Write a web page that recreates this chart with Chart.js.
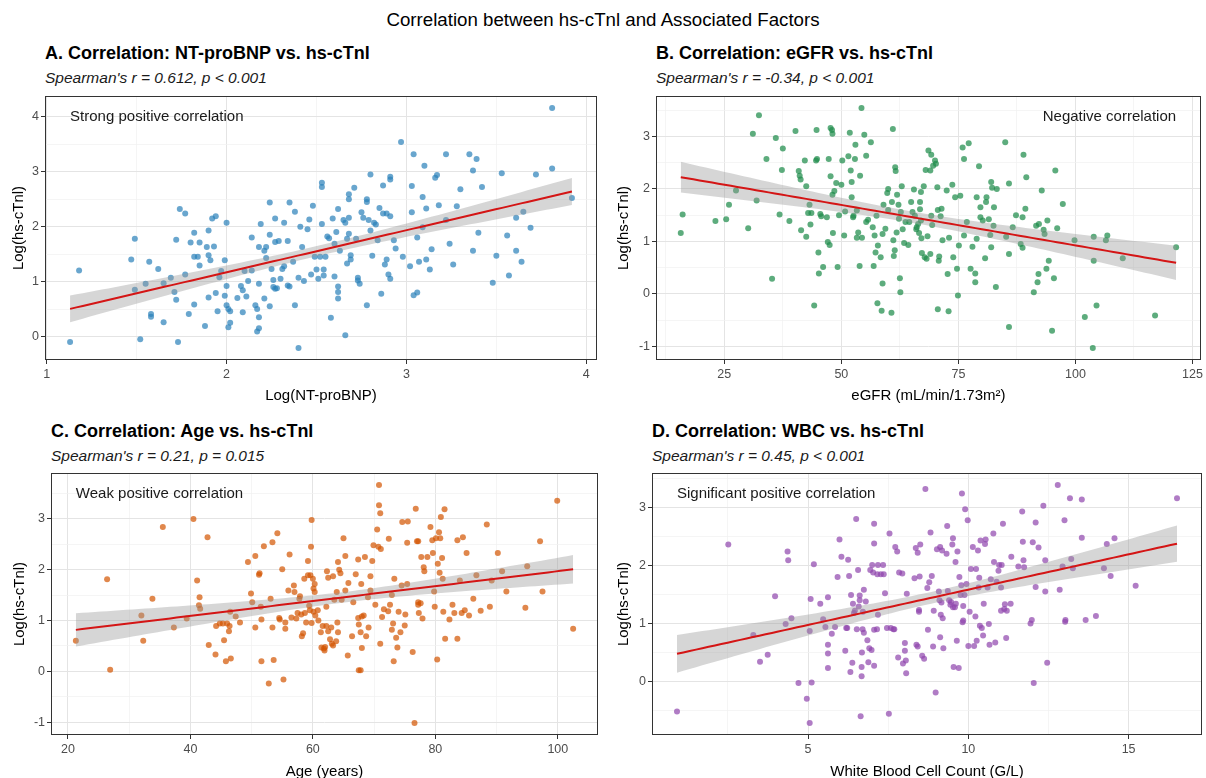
<!DOCTYPE html>
<html lang="en">
<head>
<meta charset="UTF-8" />
<title>Correlation between hs-cTnl and Associated Factors</title>
<script src="https://cdn.jsdelivr.net/npm/chart.js@4.4.1/dist/chart.umd.min.js"></script>
<style>
    html, body { margin: 0; padding: 0; background: #fff; overflow: hidden; }
    body { width: 1206px; height: 778px; position: relative; font-family: "Liberation Sans", Arial, sans-serif; }
    .txt { position: absolute; white-space: nowrap; color: #000; }
    .main { left: 0; width: 1206px; text-align: center; font-size: 18.7px; line-height: 22px; top: 9px; }
    .ttl { font-weight: bold; font-size: 18px; line-height: 22px; }
    .sub { font-style: italic; font-size: 15.5px; line-height: 20px; color: #1a1a1a; }
    .panel { position: absolute; }
</style>
</head>
<body>
<div class="txt main">Correlation between hs-cTnl and Associated Factors</div>

<div class="txt ttl" style="left:45px; top:41.5px">A. Correlation: NT-proBNP vs. hs-cTnl</div>
<div class="txt sub" style="left:45px; top:68px">Spearman's r = 0.612, p &lt; 0.001</div>
<div class="txt ttl" style="left:656px; top:41.5px">B. Correlation: eGFR vs. hs-cTnl</div>
<div class="txt sub" style="left:656px; top:68px">Spearman's r = -0.34, p &lt; 0.001</div>
<div class="txt ttl" style="left:51px; top:420px">C. Correlation: Age vs. hs-cTnl</div>
<div class="txt sub" style="left:51px; top:446px">Spearman's r = 0.21, p = 0.015</div>
<div class="txt ttl" style="left:652px; top:420px">D. Correlation: WBC vs. hs-cTnl</div>
<div class="txt sub" style="left:652px; top:446px">Spearman's r = 0.45, p &lt; 0.001</div>

<div class="panel" style="left:0; top:80px"><canvas id="pA" width="603" height="330"></canvas></div>
<div class="panel" style="left:603px; top:80px"><canvas id="pB" width="603" height="330"></canvas></div>
<div class="panel" style="left:0; top:463px"><canvas id="pC" width="603" height="327"></canvas></div>
<div class="panel" style="left:603px; top:463px"><canvas id="pD" width="603" height="327"></canvas></div>

<script>
// --- data: [x, log(hs-cTnI)] ---
const ptsA = [[1.13,-0.10],[1.18,1.20],[1.47,1.40],[1.49,1.78],[1.49,0.85],[1.52,-0.05],[1.55,0.96],[1.57,1.36],[1.58,0.41],[1.58,0.36],[1.62,1.23],[1.65,0.26],[1.65,0.97],[1.69,1.07],[1.71,0.81],[1.72,1.76],[1.72,0.67],[1.73,-0.10],[1.74,2.32],[1.77,2.24],[1.77,1.13],[1.79,0.41],[1.80,1.71],[1.82,0.58],[1.82,1.89],[1.82,1.45],[1.84,1.45],[1.85,1.29],[1.85,1.71],[1.88,0.19],[1.89,1.63],[1.90,1.93],[1.90,1.48],[1.91,1.39],[1.90,0.71],[1.92,2.15],[1.94,2.19],[1.93,1.64],[1.94,0.79],[1.95,0.46],[1.96,1.08],[1.97,1.19],[1.99,1.39],[1.99,0.74],[2.00,2.07],[2.00,0.92],[2.00,0.57],[2.01,0.50],[2.02,0.46],[2.02,0.25],[2.01,0.17],[2.06,0.70],[2.08,0.92],[2.09,0.44],[2.09,0.84],[2.10,1.19],[2.11,0.73],[2.12,1.01],[2.14,1.80],[2.14,1.20],[2.16,0.57],[2.17,0.50],[2.18,0.96],[2.18,1.63],[2.18,0.35],[2.18,0.15],[2.17,0.09],[2.19,2.05],[2.21,0.69],[2.21,1.56],[2.22,1.63],[2.22,1.43],[2.24,2.44],[2.24,1.85],[2.24,0.55],[2.25,1.23],[2.26,1.03],[2.26,0.90],[2.27,2.15],[2.27,0.87],[2.27,1.72],[2.28,0.88],[2.29,1.74],[2.30,1.05],[2.31,1.23],[2.32,2.07],[2.32,1.28],[2.34,1.74],[2.35,2.44],[2.34,0.93],[2.35,0.91],[2.37,1.36],[2.38,2.27],[2.38,0.57],[2.40,-0.21],[2.40,1.07],[2.41,2.00],[2.42,1.63],[2.43,1.01],[2.45,1.95],[2.46,2.13],[2.47,1.13],[2.48,2.38],[2.49,1.45],[2.50,1.22],[2.51,1.05],[2.52,1.45],[2.53,2.05],[2.53,2.72],[2.53,2.80],[2.54,1.22],[2.54,1.11],[2.55,1.45],[2.56,1.82],[2.57,1.79],[2.58,0.34],[2.59,2.15],[2.60,1.69],[2.60,1.09],[2.61,1.90],[2.62,2.32],[2.62,0.69],[2.62,0.91],[2.62,0.81],[2.63,1.56],[2.65,2.12],[2.66,0.02],[2.66,2.07],[2.67,1.78],[2.67,1.33],[2.68,2.59],[2.68,2.50],[2.68,2.16],[2.68,1.87],[2.69,1.48],[2.69,1.40],[2.71,2.71],[2.72,1.78],[2.73,1.07],[2.73,1.02],[2.74,0.96],[2.75,2.26],[2.76,2.16],[2.78,0.57],[2.78,2.50],[2.78,2.45],[2.79,2.12],[2.80,1.93],[2.80,2.95],[2.81,1.47],[2.82,2.07],[2.83,2.04],[2.84,1.75],[2.85,2.34],[2.86,0.78],[2.87,2.75],[2.87,2.24],[2.88,1.31],[2.89,2.24],[2.89,1.40],[2.90,1.13],[2.91,2.86],[2.91,2.19],[2.91,2.91],[2.91,1.05],[2.93,1.75],[2.94,1.60],[2.97,3.54],[2.98,1.45],[3.02,1.28],[3.03,2.74],[3.03,2.26],[3.04,0.75],[3.04,3.32],[3.06,1.80],[3.06,0.80],[3.07,1.36],[3.09,2.54],[3.09,1.99],[3.10,3.11],[3.11,1.40],[3.11,2.33],[3.13,1.22],[3.14,1.59],[3.16,2.89],[3.17,2.94],[3.18,2.39],[3.22,3.32],[3.22,2.12],[3.24,1.69],[3.26,1.31],[3.28,2.37],[3.30,2.68],[3.35,3.32],[3.37,3.02],[3.37,1.56],[3.39,3.23],[3.40,1.89],[3.42,2.72],[3.48,0.98],[3.50,1.47],[3.53,2.97],[3.56,1.84],[3.57,1.11],[3.61,1.56],[3.61,2.16],[3.64,1.36],[3.65,2.27],[3.69,1.98],[3.72,2.95],[3.81,3.06],[3.81,4.16],[3.92,2.52]];

const ptsB = [[15.7,1.16],[16.1,1.51],[23.1,1.39],[25.4,1.42],[26.0,1.70],[27.5,1.97],[30.1,1.25],[31.1,3.05],[31.9,1.78],[32.4,3.40],[34.0,2.57],[35.2,0.29],[36.0,2.97],[36.8,1.51],[37.3,2.36],[37.5,2.77],[38.9,1.39],[40.2,3.10],[40.9,2.34],[41.1,2.25],[41.3,2.18],[41.4,1.21],[42.2,2.54],[42.5,1.09],[42.5,2.05],[42.9,1.54],[43.6,1.54],[43.2,1.70],[43.4,1.32],[44.2,-0.22],[44.6,2.54],[44.7,3.12],[44.8,2.57],[45.1,0.79],[45.2,0.39],[45.5,1.52],[45.7,1.48],[46.1,0.51],[46.9,1.46],[47.1,0.99],[47.3,2.57],[47.5,0.93],[47.7,3.16],[47.7,2.24],[48.0,3.12],[48.1,3.05],[48.1,1.89],[48.2,1.16],[48.5,1.96],[48.9,2.11],[49.2,0.51],[49.5,1.50],[50.0,2.08],[50.2,2.54],[50.6,1.11],[50.8,1.57],[51.5,2.62],[51.8,3.07],[52.2,2.13],[52.0,2.35],[52.2,1.84],[52.5,1.46],[52.6,1.49],[52.9,2.57],[53.0,2.84],[53.3,1.59],[53.3,1.07],[53.6,1.17],[53.9,0.53],[54.0,2.25],[54.3,3.54],[54.4,1.07],[54.9,3.03],[55.3,1.37],[55.3,2.63],[55.7,1.41],[56.3,2.89],[56.7,1.27],[56.9,0.53],[57.1,1.11],[57.3,0.79],[57.5,1.49],[57.7,-0.18],[57.8,0.92],[58.4,0.70],[58.6,-0.32],[58.8,0.20],[58.8,1.14],[59.0,1.70],[59.4,1.24],[59.8,1.92],[60.0,2.00],[60.0,1.60],[60.7,-0.36],[60.8,1.75],[61.0,3.14],[61.1,1.02],[61.2,0.72],[61.4,0.83],[61.5,2.41],[61.6,2.34],[61.8,1.17],[61.9,1.89],[62.2,1.70],[62.3,1.43],[62.5,0.30],[62.6,0.03],[62.7,1.56],[62.9,2.05],[63.1,1.23],[63.4,0.97],[63.7,1.37],[64.3,0.93],[64.5,1.37],[64.9,1.75],[65.2,1.56],[65.5,1.99],[65.7,1.49],[66.0,1.23],[66.1,1.27],[66.4,1.33],[66.6,1.16],[66.8,1.75],[66.8,1.61],[67.0,1.94],[67.0,1.40],[67.1,1.06],[67.2,0.78],[67.6,2.05],[67.8,0.70],[68.0,2.36],[68.2,0.67],[68.4,1.10],[68.6,2.73],[69.0,2.35],[69.0,0.76],[69.2,2.65],[69.2,1.49],[69.4,1.31],[69.6,2.44],[70.0,2.54],[70.2,2.48],[70.5,2.03],[70.6,1.60],[70.6,-0.29],[70.8,0.63],[70.9,0.71],[71.2,1.48],[71.4,1.62],[71.6,1.02],[72.5,1.97],[72.7,0.38],[72.9,-0.33],[73.0,1.07],[73.7,2.08],[73.9,0.70],[74.3,1.84],[74.7,0.48],[74.9,-0.03],[75.1,0.92],[75.4,1.87],[75.9,2.79],[76.2,2.57],[76.2,1.11],[76.8,1.37],[77.2,2.87],[77.6,0.48],[78.0,0.90],[78.6,0.39],[78.6,0.22],[78.9,1.84],[78.9,1.05],[79.4,2.43],[79.7,1.46],[79.7,1.65],[80.2,1.40],[80.7,0.68],[80.9,1.75],[81.0,1.84],[81.5,1.42],[81.8,1.12],[82.0,2.13],[82.0,0.89],[82.2,2.02],[82.5,1.30],[82.6,1.65],[83.0,0.13],[83.2,2.00],[85.0,2.89],[85.2,1.09],[85.8,2.10],[85.8,0.76],[85.8,-0.63],[86.6,1.27],[87.3,1.50],[88.3,0.95],[88.7,1.46],[88.7,0.88],[88.9,2.65],[89.3,1.62],[89.5,2.22],[91.1,0.03],[91.6,1.30],[91.9,0.22],[92.1,0.38],[92.2,1.33],[92.8,1.97],[93.2,1.22],[93.4,1.14],[93.8,0.48],[94.0,1.40],[94.3,0.63],[95.0,-0.70],[95.4,0.30],[95.7,2.35],[96.1,1.25],[97.3,1.71],[99.8,1.02],[102.0,-0.44],[103.7,-1.03],[103.9,1.09],[103.9,0.63],[104.5,-0.22],[106.5,1.02],[106.8,1.11],[110.1,0.68],[117.0,-0.41],[121.5,0.89]];

const ptsC = [[21.3,0.60],[26.4,1.81],[26.9,0.03],[32.0,1.10],[32.3,0.60],[33.8,1.43],[35.5,2.84],[37.3,0.86],[39.4,1.04],[40.5,3.00],[41.1,1.79],[41.4,1.30],[41.5,1.46],[41.6,1.23],[42.8,2.64],[43.0,0.52],[44.1,0.33],[44.2,0.89],[44.8,0.94],[45.3,0.94],[45.5,0.61],[45.8,0.20],[46.0,0.94],[46.3,0.79],[46.4,0.89],[46.5,1.17],[46.6,0.25],[47.4,1.08],[48.1,0.96],[49.4,2.15],[49.9,1.53],[50.1,1.36],[50.6,2.27],[50.6,0.86],[51.2,1.90],[51.3,1.93],[51.5,1.27],[51.6,1.02],[51.6,0.20],[52.0,2.46],[52.8,-0.24],[53.1,1.43],[53.4,0.86],[53.4,2.54],[53.6,0.22],[54.2,2.72],[54.5,1.05],[54.6,1.02],[55.0,2.01],[55.2,-0.16],[55.5,0.96],[55.5,0.84],[56.0,1.59],[56.2,2.30],[56.5,1.06],[56.9,1.69],[57.0,1.56],[57.3,1.04],[57.5,1.15],[57.8,1.43],[57.9,1.48],[58.1,1.12],[58.2,0.69],[58.4,0.75],[58.6,1.82],[58.7,1.15],[58.9,0.96],[59.2,1.89],[59.2,2.17],[59.4,1.29],[59.5,1.20],[59.6,1.89],[59.7,2.45],[59.8,2.98],[59.8,0.95],[60.0,1.82],[60.1,1.63],[60.1,1.17],[60.3,1.72],[60.3,1.56],[60.4,1.10],[60.8,1.20],[60.9,1.00],[61.3,0.77],[61.4,0.47],[61.6,0.89],[61.8,0.45],[61.9,0.41],[62.0,0.48],[62.2,1.27],[62.2,0.89],[62.3,1.97],[62.5,1.84],[62.5,0.79],[62.8,0.63],[63.0,0.86],[63.1,0.54],[63.3,0.51],[63.3,1.87],[63.5,1.41],[63.8,0.59],[63.9,1.56],[64.0,0.96],[64.1,0.77],[64.1,2.15],[64.3,2.00],[64.5,1.93],[64.7,1.41],[65.0,2.62],[65.3,2.27],[65.3,1.59],[65.7,0.31],[65.8,1.74],[66.4,0.69],[66.6,1.36],[67.0,1.91],[67.4,1.05],[67.4,2.20],[67.5,0.92],[67.5,0.02],[67.8,0.02],[67.8,0.77],[67.9,1.72],[68.0,1.08],[68.0,0.46],[68.3,1.10],[68.5,2.25],[68.7,0.69],[69.0,1.46],[69.1,0.86],[69.4,1.59],[69.4,1.87],[69.7,2.17],[69.9,2.48],[70.2,1.31],[70.5,2.79],[70.7,2.45],[70.8,3.67],[70.8,3.27],[71.0,3.11],[71.0,0.54],[71.1,2.41],[71.3,1.07],[71.6,1.22],[72.3,1.18],[72.4,2.61],[72.6,1.31],[72.9,1.50],[72.9,0.82],[73.1,0.94],[73.2,0.20],[73.3,1.82],[73.6,0.66],[73.8,0.47],[74.0,1.17],[74.3,0.77],[74.5,1.69],[74.6,2.94],[75.0,0.90],[75.1,1.12],[75.4,1.72],[75.5,2.95],[75.4,2.53],[76.3,0.38],[76.6,-1.02],[76.8,3.20],[77.0,2.56],[77.2,2.56],[77.2,1.36],[77.2,1.31],[77.3,1.15],[77.6,1.34],[77.7,2.25],[77.9,1.04],[78.1,2.05],[78.2,1.97],[78.7,2.25],[79.2,2.84],[79.5,2.58],[79.6,2.33],[79.8,1.57],[79.9,1.27],[80.1,2.62],[80.3,0.23],[80.4,2.12],[80.6,2.74],[80.7,1.94],[80.8,2.62],[80.9,3.04],[81.1,2.23],[81.2,1.82],[81.3,1.17],[81.5,3.19],[81.6,0.64],[82.3,1.02],[82.8,1.31],[83.1,1.15],[83.6,2.58],[83.6,0.64],[84.0,1.79],[84.3,1.15],[84.5,2.64],[84.8,1.20],[85.1,2.33],[85.5,1.10],[86.2,1.43],[86.7,1.89],[87.4,1.19],[88.4,2.89],[88.9,1.27],[89.2,1.79],[90.2,2.33],[90.9,1.97],[91.6,1.57],[94.7,1.25],[95.0,2.07],[97.1,2.56],[97.5,1.57],[99.9,3.36],[102.5,0.84]];

const ptsD = [[0.91,-0.52],[2.51,2.36],[3.29,0.80],[3.50,0.34],[3.74,0.46],[3.97,1.47],[4.30,0.99],[4.36,2.24],[4.38,2.09],[4.48,1.09],[4.70,-0.03],[4.96,-0.30],[5.05,-0.72],[5.05,0.87],[5.08,1.42],[5.11,-0.02],[5.18,2.02],[5.38,1.34],[5.47,1.07],[5.54,0.94],[5.62,1.45],[5.62,0.63],[5.62,0.48],[5.62,0.23],[5.74,0.82],[5.84,0.94],[5.92,1.80],[5.98,2.45],[6.04,2.15],[6.16,0.53],[6.19,0.92],[6.22,0.92],[6.25,2.10],[6.28,1.82],[6.32,0.16],[6.34,1.49],[6.38,0.32],[6.40,1.34],[6.43,1.18],[6.46,1.22],[6.50,2.80],[6.52,0.90],[6.56,1.92],[6.58,1.29],[6.61,1.48],[6.61,1.40],[6.64,-0.60],[6.67,0.25],[6.67,0.09],[6.68,0.50],[6.70,0.90],[6.71,1.20],[6.74,1.58],[6.74,0.84],[6.80,1.38],[6.85,0.71],[6.88,0.33],[6.91,0.57],[6.94,1.92],[6.98,0.54],[7.00,2.01],[7.03,1.88],[7.06,2.38],[7.06,2.72],[7.06,0.89],[7.06,0.27],[7.15,0.90],[7.16,1.85],[7.18,2.01],[7.18,1.15],[7.27,1.85],[7.34,2.01],[7.36,1.85],[7.40,1.52],[7.46,0.92],[7.52,-0.56],[7.54,2.55],[7.58,0.92],[7.66,0.90],[7.69,0.90],[7.72,2.32],[7.78,2.24],[7.81,0.41],[7.84,1.88],[7.94,1.86],[7.96,0.31],[8.02,0.53],[8.02,0.66],[8.05,0.36],[8.06,0.14],[8.08,1.51],[8.32,1.78],[8.36,2.30],[8.38,0.63],[8.42,2.22],[8.42,0.60],[8.46,1.23],[8.46,1.20],[8.48,1.81],[8.50,2.36],[8.56,0.44],[8.62,0.39],[8.66,3.32],[8.72,1.61],[8.74,0.89],[8.78,1.71],[8.82,2.57],[8.86,1.82],[8.90,0.60],[8.92,1.22],[8.98,-0.19],[9.02,2.28],[9.08,1.55],[9.10,1.40],[9.12,2.32],[9.12,0.76],[9.14,1.15],[9.16,1.36],[9.18,2.26],[9.20,1.09],[9.22,0.57],[9.32,2.20],[9.34,2.68],[9.36,1.56],[9.40,1.40],[9.44,1.32],[9.46,1.37],[9.50,2.36],[9.52,2.47],[9.52,1.28],[9.54,0.25],[9.58,1.28],[9.60,2.06],[9.61,1.34],[9.64,0.70],[9.66,2.24],[9.70,0.23],[9.72,1.80],[9.76,1.49],[9.78,1.66],[9.80,3.24],[9.82,1.02],[9.84,1.05],[9.84,1.30],[9.88,1.49],[9.90,2.97],[9.94,1.68],[9.98,2.78],[10.00,0.61],[10.04,1.20],[10.08,1.94],[10.14,2.32],[10.18,0.61],[10.22,1.12],[10.24,1.94],[10.26,0.70],[10.30,2.26],[10.32,1.62],[10.34,1.79],[10.36,0.96],[10.38,2.43],[10.42,0.92],[10.46,0.79],[10.48,1.34],[10.52,2.37],[10.54,2.45],[10.60,1.62],[10.64,0.99],[10.66,0.63],[10.70,1.76],[10.78,2.55],[10.80,2.06],[10.84,0.67],[10.88,1.72],[10.94,1.91],[10.96,2.01],[11.02,1.62],[11.02,1.22],[11.04,2.01],[11.08,2.72],[11.12,1.25],[11.14,1.33],[11.18,0.75],[11.20,1.22],[11.32,1.34],[11.34,2.15],[11.56,1.98],[11.68,2.93],[11.70,2.41],[11.72,2.09],[11.74,1.97],[11.94,1.00],[11.98,1.06],[12.01,2.40],[12.04,-0.03],[12.10,1.63],[12.10,2.74],[12.19,2.31],[12.34,3.03],[12.40,1.55],[12.40,2.09],[12.46,0.32],[12.79,3.39],[12.85,1.58],[12.94,1.98],[13.00,2.78],[13.02,1.03],[13.03,1.06],[13.17,3.16],[13.21,2.11],[13.26,1.95],[13.54,3.14],[13.54,2.48],[13.66,1.06],[13.98,1.13],[14.23,1.95],[14.32,2.37],[14.44,1.82],[14.56,2.47],[15.22,1.65],[16.51,3.16]];

const xTitles = ['Log(NT-proBNP)', 'eGFR (mL/min/1.73m²)', 'Age (years)', 'White Blood Cell Count (G/L)'];
const yTitle = 'Log(hs-cTnl)';
const notes = ['Strong positive correlation', 'Negative correlation', 'Weak positive correlation', 'Significant positive correlation'];
const noteX = [1.13, 121.5, 21.3, 0.91];
const noteY = [4.0, 3.37, 3.5, 3.23];
const noteAlign = ['left', 'right', 'left', 'left'];
const xSteps = [1, 25, 20, 5];
const pointColors = ['rgba(41,128,185,0.7)', 'rgba(30,140,75,0.72)', 'rgba(211,84,0,0.7)', 'rgba(142,68,173,0.7)'];

const FONT = '"Liberation Sans", Arial, sans-serif';
const T975 = 1.97;

// ggplot-like 5% padding
function expand(v) {
    const lo = Math.min(...v), hi = Math.max(...v), d = (hi - lo) * 0.05;
    return [lo - d, hi + d];
}

// lm fit + 95% confidence band, like geom_smooth(method = "lm")
function lmBand(xs, ys) {
    const n = xs.length;
    const mx = xs.reduce((a, b) => a + b, 0) / n;
    const my = ys.reduce((a, b) => a + b, 0) / n;
    let sxx = 0, sxy = 0;
    for (let i = 0; i < n; i++) { sxx += (xs[i] - mx) ** 2; sxy += (xs[i] - mx) * (ys[i] - my); }
    const b = sxy / sxx, a = my - b * mx;
    let sse = 0;
    for (let i = 0; i < n; i++) sse += (ys[i] - a - b * xs[i]) ** 2;
    const s = Math.sqrt(sse / (n - 2));
    const lo = Math.min(...xs), hi = Math.max(...xs);
    const fit = [], low = [], upp = [];
    for (let k = 0; k < 80; k++) {
        const x = lo + (hi - lo) * k / 79;
        const y = a + b * x;
        const se = s * Math.sqrt(1 / n + (x - mx) ** 2 / sxx);
        fit.push({x, y});
        low.push({x, y: y - T975 * se});
        upp.push({x, y: y + T975 * se});
    }
    return {fit, low, upp};
}

const isMajor = (v, step) => Math.abs(v / step - Math.round(v / step)) < 1e-6;

// panel frame + annotation text
const framePlugin = {
    id: 'frame',
    afterDatasetsDraw(chart, args, opts) {
        const {ctx, chartArea: a, scales} = chart;
        ctx.save();
        ctx.font = '15px ' + FONT;
        ctx.fillStyle = '#1a1a1a';
        ctx.textBaseline = 'middle';
        ctx.textAlign = opts.align;
        ctx.fillText(opts.text, scales.x.getPixelForValue(opts.x), scales.y.getPixelForValue(opts.y));
        ctx.strokeStyle = '#333333';
        ctx.lineWidth = 1;
        ctx.strokeRect(Math.round(a.left) + 0.5, Math.round(a.top) + 0.5,
            Math.round(a.right - a.left) - 1, Math.round(a.bottom - a.top) - 1);
        ctx.restore();
    }
};

function axis(step, title, fitFn, titlePad) {
    return {
        type: 'linear',
        afterBuildTicks: s => {
            const h = step / 2, t = [];
            for (let v = Math.ceil(s.min / h) * h; v <= s.max + 1e-9; v += h) t.push({value: +v.toFixed(6)});
            s.ticks = t;
        },
        afterFit: fitFn,
        border: {display: false},
        grid: {
            color: c => (c.tick && isMajor(c.tick.value, step)) ? '#e4e4e4' : '#f0f0f0',
            lineWidth: c => (c.tick && isMajor(c.tick.value, step)) ? 1 : 0.7,
            tickColor: c => (c.tick && isMajor(c.tick.value, step)) ? '#333333' : 'rgba(0,0,0,0)',
            tickLength: 4,
            tickWidth: 1
        },
        ticks: {
            autoSkip: false,
            maxRotation: 0,
            padding: 2,
            color: '#4d4d4d',
            font: {family: FONT, size: 12.5},
            callback: v => isMajor(v, step) ? String(Math.round(v / step) * step) : ''
        },
        title: {
            display: true,
            text: title,
            color: '#000',
            font: {family: FONT, size: 15},
            padding: titlePad
        }
    };
}

// canvas box and the wanted plot box (page pixels)
const panels = [
    {id: 'pA', pts: ptsA, cv: [0, 80, 603, 330], area: [45, 96, 597, 360], yTitleX: 18.5, xTitleY: 396},
    {id: 'pB', pts: ptsB, cv: [603, 80, 603, 330], area: [656, 96, 1202, 360], yTitleX: 624, xTitleY: 396},
    {id: 'pC', pts: ptsC, cv: [0, 463, 603, 327], area: [51, 473, 598, 735], yTitleX: 20, xTitleY: 772},
    {id: 'pD', pts: ptsD, cv: [603, 463, 603, 327], area: [652, 473, 1202, 735], yTitleX: 624, xTitleY: 772}
];

panels.forEach((p, i) => {
    const xs = p.pts.map(d => d[0]);
    const ys = p.pts.map(d => d[1]);
    const xr = expand(xs), yr = expand(ys);
    const band = lmBand(xs, ys);
    const [cl, ct, cw, ch] = p.cv;
    const [al, at, ar, ab] = p.area;
    const yW = al - cl, xH = ct + ch - ab;
    const half = 15 * 1.2 / 2;

    const xAxis = axis(xSteps[i], xTitles[i], s => { s.height = xH; },
        {top: 0, bottom: (ct + ch) - p.xTitleY - half});
    xAxis.min = xr[0]; xAxis.max = xr[1];
    xAxis.ticks.padding = 3;
    const yAxis = axis(1, yTitle, s => { s.width = yW; },
        {top: (p.yTitleX - cl) - half, bottom: 0});
    yAxis.min = yr[0]; yAxis.max = yr[1];

    new Chart(document.getElementById(p.id), {
        type: 'scatter',
        data: {
            datasets: [
                {
                    data: p.pts.map(d => ({x: d[0], y: d[1]})),
                    backgroundColor: pointColors[i],
                    borderWidth: 0,
                    pointRadius: 3,
                    order: 3
                },
                {
                    type: 'line', data: band.low, borderWidth: 0, pointRadius: 0,
                    fill: false, order: 2
                },
                {
                    type: 'line', data: band.upp, borderWidth: 0, pointRadius: 0,
                    fill: '-1', backgroundColor: 'rgba(153,153,153,0.4)', order: 2
                },
                {
                    type: 'line', data: band.fit, borderColor: '#d41515', borderWidth: 2,
                    pointRadius: 0, fill: false, order: 1
                }
            ]
        },
        options: {
            responsive: false,
            animation: false,
            devicePixelRatio: 1,
            layout: {padding: {top: at - ct, right: cl + cw - ar, left: 0, bottom: 0}},
            plugins: {
                legend: {display: false},
                tooltip: {enabled: false},
                frame: {text: notes[i], x: noteX[i], y: noteY[i], align: noteAlign[i]}
            },
            scales: {x: xAxis, y: yAxis}
        },
        plugins: [framePlugin]
    });
});
</script>
</body>
</html>
